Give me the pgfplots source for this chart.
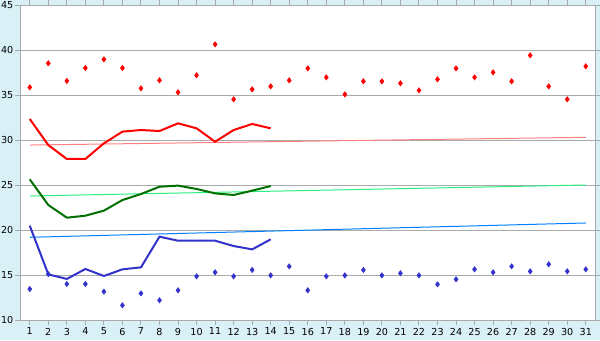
\documentclass[border=0pt]{standalone}
\usepackage{pgfplots}
\pgfplotsset{compat=1.18}
\usepackage{fontspec}
\setmainfont{DejaVu Sans}
\definecolor{bgblue}{RGB}{217,240,247}
\definecolor{gridgray}{RGB}{170,170,170}
\definecolor{darkgreen}{RGB}{0,112,0}
\definecolor{lineblue}{RGB}{51,51,204}
\definecolor{trendred}{RGB}{255,128,128}
\definecolor{trendgreen}{RGB}{40,240,130}
\definecolor{trendblue}{RGB}{0,128,255}
\begin{document}
\begin{tikzpicture}[x=1pt,y=1pt]
\fill[bgblue] (-15.375,-15) rectangle ++(450,255);
\useasboundingbox (-15.375,-15) rectangle ++(450,255);
\fill[white] (0,0) rectangle (430.9,236.25);
\begin{axis}[
  at={(0,0)}, anchor=south west,
  scale only axis, width=430.9pt, height=236.25pt,
  xmin=0.5, xmax=31.5, ymin=10, ymax=45,
  xtick={1,...,31}, ytick={10,15,...,45},
  tick align=outside, major tick length=3.75pt,
  tick style={gridgray, line width=0.75pt},
  ymajorgrids, grid style={gridgray, line width=0.75pt},
  axis line style={gridgray, line width=0.75pt},
  tick label style={font=\fontsize{7.2pt}{8pt}\selectfont, black},
  xticklabel style={inner sep=1pt, yshift=-1pt},
  yticklabel style={inner sep=1.5pt},
  /pgf/number format/assume math mode=true,
  clip=false,
]
% trend lines
\addplot[trendred, line width=0.75pt] coordinates {(1,29.44) (31,30.3)};
\addplot[trendgreen, line width=0.75pt] coordinates {(1,23.78) (31,25.0)};
\addplot[trendblue, line width=0.75pt] coordinates {(1,19.19) (31,20.78)};
% lines
\addplot[red, line width=1.5pt] coordinates {
(1,32.33)(2,29.44)(3,27.89)(4,27.89)(5,29.63)(6,30.93)(7,31.11)(8,31.0)(9,31.85)(10,31.3)(11,29.81)(12,31.11)(13,31.78)(14,31.3)};
\addplot[darkgreen, line width=1.5pt] coordinates {
(1,25.63)(2,22.78)(3,21.37)(4,21.59)(5,22.15)(6,23.33)(7,24.0)(8,24.81)(9,24.93)(10,24.56)(11,24.07)(12,23.89)(13,24.37)(14,24.89)};
\addplot[lineblue, line width=1.5pt] coordinates {
(1,20.48)(2,15.07)(3,14.56)(4,15.67)(5,14.89)(6,15.63)(7,15.85)(8,19.26)(9,18.81)(10,18.81)(11,18.81)(12,18.22)(13,17.85)(14,18.96)};
% markers
\addplot[only marks, mark=diamond*, mark size=2pt, red] coordinates {
(1,35.85)(2,38.52)(3,36.56)(4,38.0)(5,38.96)(6,38.0)(7,35.74)(8,36.63)(9,35.3)(10,37.19)
(11,40.63)(12,34.52)(13,35.63)(14,35.96)(15,36.63)(16,37.96)(17,36.96)(18,35.07)(19,36.52)(20,36.52)
(21,36.3)(22,35.52)(23,36.74)(24,37.96)(25,36.96)(26,37.52)(27,36.52)(28,39.41)(29,35.96)(30,34.52)(31,38.19)};
\addplot[only marks, mark=diamond*, mark size=2pt, lineblue] coordinates {
(1,13.44)(2,15.1)(3,14.0)(4,14.0)(5,13.15)(6,11.63)(7,12.96)(8,12.19)(9,13.3)(10,14.85)
(11,15.3)(12,14.85)(13,15.56)(14,14.96)(15,15.96)(16,13.3)(17,14.85)(18,14.96)(19,15.56)(20,14.96)
(21,15.19)(22,14.96)(23,13.96)(24,14.52)(25,15.63)(26,15.3)(27,15.96)(28,15.41)(29,16.19)(30,15.41)(31,15.63)};
\end{axis}
\end{tikzpicture}
\end{document}
